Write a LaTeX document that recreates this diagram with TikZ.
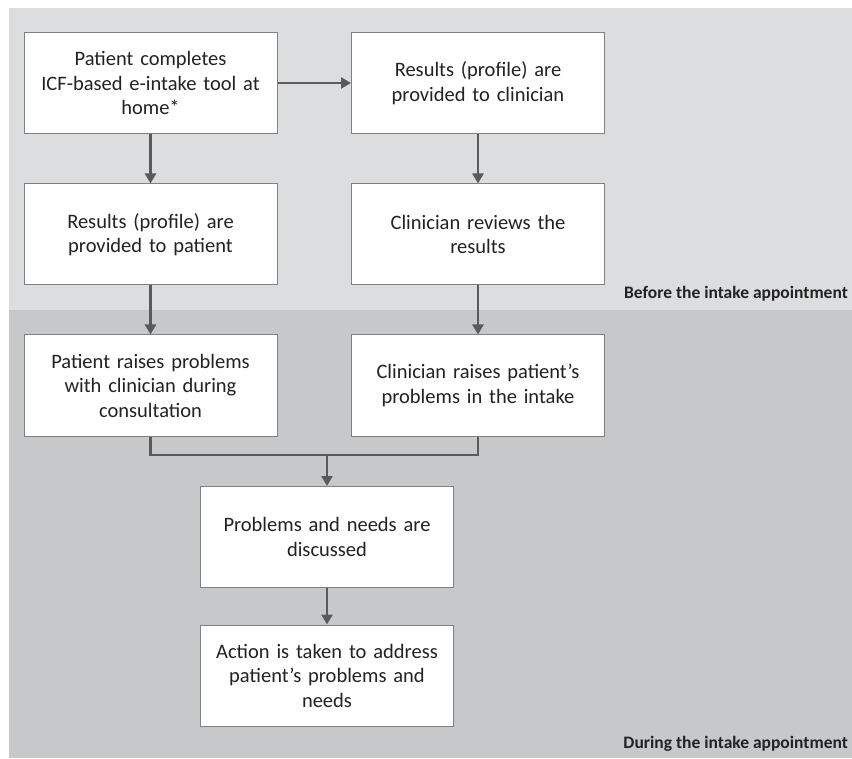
\documentclass[tikz,border=0pt]{standalone}
\usepackage{fontspec}
\setmainfont{Carlito}
\usetikzlibrary{arrows.meta}
\definecolor{bandA}{HTML}{DCDDDF}
\definecolor{bandB}{HTML}{C7C8CA}
\definecolor{boxline}{HTML}{808080}
\definecolor{arr}{HTML}{5A5A5A}
\definecolor{txt}{HTML}{222222}
\begin{document}
\begin{tikzpicture}[x=1pt,y=-1pt,
  stepbox/.style={draw=boxline,line width=1pt,fill=white,minimum width=253pt,minimum height=101pt,text width=245pt,align=center,inner sep=0pt,font=\fontsize{20.5}{24.5}\selectfont,text=txt},
  flow/.style={draw=arr,line width=2.6pt,-{Triangle[length=10pt,width=11pt]}},
  joinline/.style={draw=arr,line width=2.6pt},
  phase/.style={anchor=south east,font=\bfseries\fontsize{17.5}{19}\selectfont,text=txt,inner sep=0pt}]
\useasboundingbox (0,0) rectangle (852,759);
\fill[white] (0,0) rectangle (852,759);
\fill[bandA] (9,8) rectangle (852,310);
\fill[bandB] (9,310) rectangle (852,758);
\node[stepbox] (a) at (150.5,83) {Patient completes\\ICF-based e-intake tool at\\home*};
\node[stepbox] (b) at (478,83) {Results (profile) are\\provided to clinician};
\node[stepbox] (c) at (150.5,234.5) {Results (profile) are\\provided to patient};
\node[stepbox] (d) at (478,234.5) {Clinician reviews the\\results};
\node[stepbox] (e) at (150.5,385.5) {Patient raises problems\\with clinician during\\consultation};
\node[stepbox] (f) at (478,385.5) {Clinician raises patient's\\problems in the intake};
\node[stepbox] (g) at (327,537) {Problems and needs are\\discussed};
\node[stepbox] (h) at (327,675.5) {Action is taken to address\\patient's problems and\\needs};
\node[phase] (l1) at (848,301) {Before the intake appointment};
\node[phase] (l2) at (848,752) {During the intake appointment};
\coordinate (j) at (327,455);
\draw[flow] (a.east) -- (b.west);
\draw[flow] (a) -- (c);
\draw[flow] (b) -- (d);
\draw[flow] (c) -- (e);
\draw[flow] (d) -- (f);
\draw[joinline] (e.south) |- (j) -| (f.south);
\draw[flow] (j) -- (g.north);
\draw[flow] (g) -- (h);
\end{tikzpicture}
\end{document}
